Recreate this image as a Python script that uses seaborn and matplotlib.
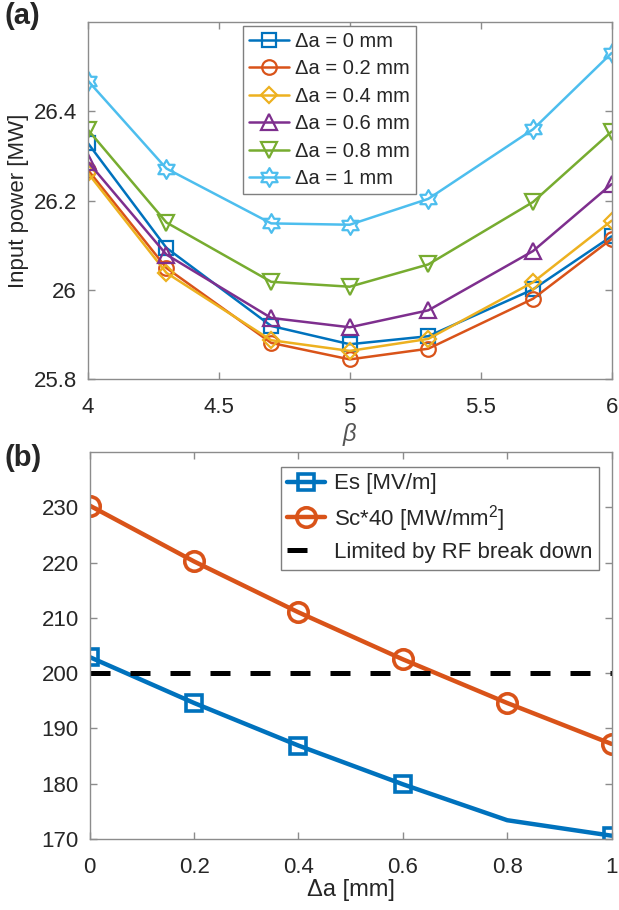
import numpy as np
import pandas as pd
import matplotlib
matplotlib.use("Agg")
import matplotlib.pyplot as plt
from matplotlib.path import Path
from matplotlib.ticker import FuncFormatter
import seaborn as sns

# ---------------- data ----------------
beta = [4.0, 4.3, 4.7, 5.0, 5.3, 5.7, 6.0]
p_da0 = [26.329, 26.094, 25.919, 25.878, 25.896, 26.001, 26.120]
p_da02 = [26.269, 26.049, 25.881, 25.844, 25.868, 25.980, 26.114]
p_da04 = [26.262, 26.038, 25.887, 25.863, 25.890, 26.017, 26.155]
p_da06 = [26.287, 26.079, 25.937, 25.916, 25.954, 26.087, 26.237]
p_da08 = [26.359, 26.151, 26.018, 26.007, 26.057, 26.197, 26.355]
p_da1 = [26.469, 26.272, 26.149, 26.146, 26.204, 26.360, 26.531]
labels_a = ["\u0394a = 0 mm", "\u0394a = 0.2 mm", "\u0394a = 0.4 mm",
            "\u0394a = 0.6 mm", "\u0394a = 0.8 mm", "\u0394a = 1 mm"]

delta_a = [0.0, 0.2, 0.4, 0.6, 0.8, 1.0]
es = [202.9, 194.6, 186.9, 179.9, 173.4, 170.6]
sc40 = [230.3, 220.2, 211.0, 202.5, 194.6, 187.2]
rf_limit = 200
labels_b = ["Es [MV/m]", "Sc*40 [MW/mm$^2$]", "Limited by RF break down"]

# ---------------- style ----------------
sns.set_theme(style="white")
plt.rcParams["font.family"] = ["Liberation Sans", "DejaVu Sans"]
plt.rcParams["mathtext.fontset"] = "custom"
plt.rcParams["mathtext.rm"] = "Liberation Sans"
plt.rcParams["mathtext.it"] = "Liberation Sans:italic"

colors = ["#0072BD", "#D95319", "#EDB120", "#7E2F8E", "#77AC30", "#4DBEEE"]

# hexagram marker (6-pointed star outline)
ang = np.pi / 2 + np.arange(12) * np.pi / 6
rad = np.where(np.arange(12) % 2 == 0, 1.0, 0.577)
verts = np.column_stack([rad * np.cos(ang), rad * np.sin(ang)])
verts = np.vstack([verts, verts[:1]])
hexagram = Path(verts, [Path.MOVETO] + [Path.LINETO] * 11 + [Path.CLOSEPOLY])
markers_a = ["s", "o", "D", "^", "v", hexagram]
msize_a = [9.5, 10.5, 8.5, 11.5, 11.5, 13.5]

fig = plt.figure(figsize=(6.19, 9.10), dpi=100)
ax1 = fig.add_axes([0.142, 0.5835, 0.846, 0.392])
ax2 = fig.add_axes([0.145, 0.078, 0.843, 0.4253])

spine_col = "#8c8c8c"
for ax in (ax1, ax2):
    for s in ax.spines.values():
        s.set_color(spine_col)
        s.set_linewidth(1.0)
    ax.tick_params(direction="in", length=5, width=1, color=spine_col,
                   top=True, right=True, bottom=True, left=True,
                   labelsize=16, labelcolor="#262626")
    ax.tick_params(axis="x", pad=13)
    ax.tick_params(axis="y", pad=8)

# ---------------- panel (a) ----------------
series_a = [p_da0, p_da02, p_da04, p_da06, p_da08, p_da1]
for vals, lab, col, mk, ms in zip(series_a, labels_a, colors, markers_a, msize_a):
    df = pd.DataFrame({"beta": beta, "P": vals})
    sns.lineplot(data=df, x="beta", y="P", ax=ax1, color=col, lw=1.8,
                 marker=mk, markersize=ms, markerfacecolor="none",
                 markeredgecolor=col, markeredgewidth=1.6, label=lab)

ax1.set_xlim(4, 6)
ax1.set_ylim(25.8, 26.6)
ax1.set_xticks([4, 4.5, 5, 5.5, 6])
ax1.set_yticks([25.8, 26.0, 26.2, 26.4])
fmt = FuncFormatter(lambda v, p: f"{v:g}")
ax1.xaxis.set_major_formatter(fmt)
ax1.yaxis.set_major_formatter(fmt)
ax1.set_xlabel("$\\it{\\beta}$", fontsize=17, color="#555555", labelpad=2)
ax1.set_ylabel("Input power [MW]", fontsize=16, color="#262626", labelpad=3)
leg1 = ax1.legend(loc="upper left", bbox_to_anchor=(0.296, 0.99), fontsize=14.5,
                  frameon=True, fancybox=False, framealpha=1, edgecolor="#7f7f7f",
                  handlelength=2.0, handletextpad=0.3, labelspacing=0.42,
                  borderpad=0.3, borderaxespad=0)
leg1.get_frame().set_linewidth(1.0)

# ---------------- panel (b) ----------------
df_b = pd.DataFrame({"da": delta_a, "es": es, "sc": sc40})
sns.lineplot(data=df_b, x="da", y="es", ax=ax2, color=colors[0], lw=3.2,
             marker="s", markersize=12, markerfacecolor="none",
             markeredgecolor=colors[0], markeredgewidth=2.6,
             markevery=[0, 1, 2, 3, 5], label=labels_b[0])
sns.lineplot(data=df_b, x="da", y="sc", ax=ax2, color=colors[1], lw=3.2,
             marker="o", markersize=14, markerfacecolor="none",
             markeredgecolor=colors[1], markeredgewidth=2.6, label=labels_b[1])
ax2.axhline(rf_limit, color="black", lw=3.6, dashes=(4.0, 4.0),
            label=labels_b[2])

ax2.set_xlim(0, 1)
ax2.set_ylim(170, 240)
ax2.set_xticks(delta_a)
ax2.set_yticks([170, 180, 190, 200, 210, 220, 230])
ax2.xaxis.set_major_formatter(fmt)
ax2.yaxis.set_major_formatter(fmt)
ax2.set_xlabel("\u0394a [mm]", fontsize=17, color="#262626", labelpad=1)
ax2.set_ylabel("")
leg2 = ax2.legend(loc="upper left", bbox_to_anchor=(0.366, 0.962), fontsize=16,
                  frameon=True, fancybox=False, framealpha=1, edgecolor="#7f7f7f",
                  handlelength=1.7, handletextpad=0.4, labelspacing=0.38,
                  borderpad=0.3, borderaxespad=0)
leg2.get_frame().set_linewidth(1.0)

# panel labels
fig.text(0.008, 0.982, "(a)", fontsize=21, fontweight="bold", va="center", ha="left")
fig.text(0.008, 0.497, "(b)", fontsize=21, fontweight="bold", va="center", ha="left")

fig.savefig("out.png", dpi=100)
